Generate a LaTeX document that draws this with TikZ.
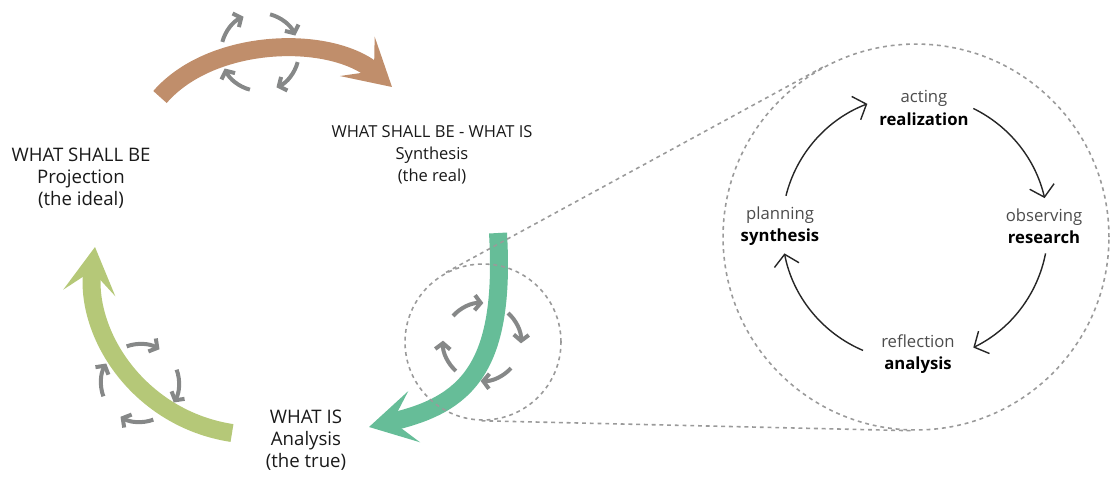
\documentclass[tikz,border=0pt]{standalone}
\usepackage{fontspec}
\setmainfont{Open Sans}
\usetikzlibrary{arrows.meta,calc,positioning}
\definecolor{brownarrow}{HTML}{C08E6B}
\definecolor{greenarrow}{HTML}{66BD98}
\definecolor{limearrow}{HTML}{B5C878}
\definecolor{cyclegray}{HTML}{868888}
\definecolor{dashgray}{HTML}{9A9A9A}
\tikzstyle{cycle diagram}=[
    x=0.02cm, y=-0.02cm,
    every node/.style={align=center, font=\fontsize{9.5}{12.8}\selectfont},
]
\tikzstyle{stage}=[font=\fontsize{10.6}{12.5}\selectfont, text=black!90]
\tikzstyle{thick arrow}=[line width=0.36cm, -{Stealth[length=0.92cm,width=1.04cm,inset=0.44cm]}]
\tikzstyle{small arrow}=[cyclegray, line width=0.08cm, -{Straight Barb[length=0.12cm,width=0.3cm]}]
\tikzstyle{loop arrow}=[black!85, line width=0.8pt, -{Straight Barb[length=0.22cm,width=0.5cm]}]
\tikzstyle{zoom line}=[dashgray, line width=0.9pt, dash pattern=on 2.2pt off 2.2pt]
\newcommand{\lighttext}[1]{{\color{black!70}#1}}
\newcommand{\smallcycle}[2]{%
    \foreach \a in {0,90,180,270}
        \draw[small arrow] (#1) ++({#2+\a}:39) arc[start angle={#2+\a}, end angle={#2+\a+50}, radius=39];
}

\begin{document}
\begin{tikzpicture}[cycle diagram]
    \useasboundingbox (0,0) rectangle (1110,478);

    % the three stages
    \node[stage] (ideal) at (81,178) {WHAT SHALL BE\\Projection\\(the ideal)};
    \node[stage, font=\fontsize{9.4}{12.5}\selectfont] (real) at (432,155) {WHAT SHALL BE - WHAT IS\\Synthesis\\(the real)};
    \node[stage] (true) at (306,440) {WHAT IS\\Analysis\\(the true)};

    % ends of the big arrows
    \coordinate (brown tail) at (160,97);
    \coordinate (brown tip) at (392,87);
    \coordinate (green tail) at (498,233);
    \coordinate (green tip) at (369,427);
    \coordinate (lime tail) at (232,433);
    \coordinate (lime tip) at (95,247);

    \draw[thick arrow, brownarrow] (brown tail) .. controls (212,37) and (332,34) .. (brown tip);
    \draw[thick arrow, greenarrow] (green tail) .. controls (506,370) and (465,405) .. (green tip);
    \draw[thick arrow, limearrow] (lime tail) .. controls (140,419) and (84,335) .. (lime tip);

    % small cycles
    \coordinate (top cycle) at (260,52);
    \coordinate (left cycle) at (140,383);
    \coordinate (lens cycle) at (482,342);
    \smallcycle{top cycle}{-165}
    \smallcycle{left cycle}{-110}
    \smallcycle{lens cycle}{-138}

    % zoom
    \node[circle, zoom line, draw, inner sep=0pt, minimum size=3.12cm] (lens) at (483,342) {};
    \node[circle, zoom line, draw, inner sep=0pt, minimum size=7.72cm] (zoom) at (916,237) {};
    \draw[zoom line] (lens.118.6) -- (zoom.118.6);
    \draw[zoom line] (lens.-91.4) -- (zoom.-91.4);

    % action research loop
    \node (acting) at (924,108) {\lighttext{acting}\\\textbf{realization}};
    \node (observing) at (1044,226) {\lighttext{observing}\\\textbf{research}};
    \node (reflection) at (918,354) {\lighttext{reflection}\\\textbf{analysis}};
    \node (planning) at (780,226) {\lighttext{planning}\\\textbf{synthesis}};

    \coordinate (loop centre) at (915,228);
    \draw[loop arrow] (loop centre) ++(194:133) arc[start angle=194, end angle=249, radius=133];
    \draw[loop arrow] (loop centre) ++(296:133) arc[start angle=296, end angle=347, radius=133];
    \draw[loop arrow] (loop centre) ++(11:133) arc[start angle=11, end angle=64, radius=133];
    \draw[loop arrow] (loop centre) ++(113:133) arc[start angle=113, end angle=169, radius=133];
\end{tikzpicture}
\end{document}
